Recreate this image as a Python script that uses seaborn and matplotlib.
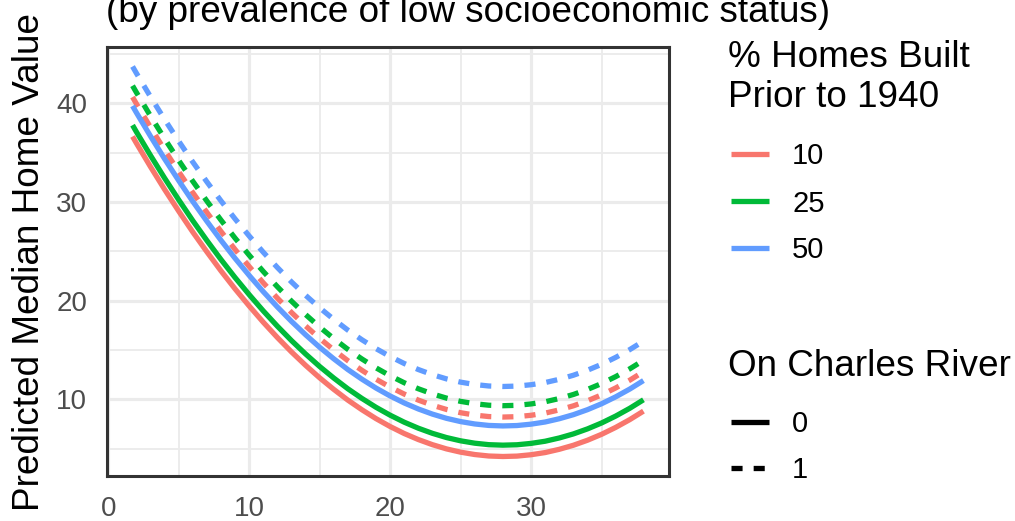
import numpy as np
import pandas as pd
import seaborn as sns
import matplotlib
matplotlib.use("Agg")
import matplotlib.pyplot as plt
from matplotlib.lines import Line2D
from matplotlib.ticker import MultipleLocator

# ---- data ----
lstat = [1.73, 2, 3, 4, 5, 6, 7, 8, 9, 10, 11, 12, 13, 14, 15, 16, 17, 18, 19, 20,
         21, 22, 23, 24, 25, 26, 27, 28, 29, 30, 31, 32, 33, 34, 35, 36, 37, 37.97]
age_levels = ["10", "25", "50"]
chas_levels = ["0", "1"]

pred_age10_chas0 = [36.65, 35.98, 33.59, 31.29, 29.09, 26.97, 24.96, 23.03, 21.20, 19.47, 17.82, 16.27, 14.81,
                    13.45, 12.18, 11.01, 9.92, 8.94, 8.04, 7.24, 6.53, 5.92, 5.40, 4.97, 4.64, 4.40, 4.25, 4.20,
                    4.24, 4.38, 4.60, 4.93, 5.34, 5.85, 6.45, 7.15, 7.94, 8.80]
pred_age25_chas0 = [37.80, 37.13, 34.74, 32.44, 30.24, 28.12, 26.11, 24.18, 22.35, 20.62, 18.97, 17.42, 15.96,
                    14.60, 13.33, 12.16, 11.07, 10.09, 9.19, 8.39, 7.68, 7.07, 6.55, 6.12, 5.79, 5.55, 5.40, 5.35,
                    5.39, 5.53, 5.75, 6.08, 6.49, 7.00, 7.60, 8.30, 9.09, 9.95]
pred_age50_chas0 = [39.75, 39.08, 36.69, 34.39, 32.19, 30.07, 28.06, 26.13, 24.30, 22.57, 20.92, 19.37, 17.91,
                    16.55, 15.28, 14.11, 13.02, 12.04, 11.14, 10.34, 9.63, 9.02, 8.50, 8.07, 7.74, 7.50, 7.35, 7.30,
                    7.34, 7.48, 7.70, 8.03, 8.44, 8.95, 9.55, 10.25, 11.04, 11.90]
pred_age10_chas1 = [40.65, 39.98, 37.59, 35.29, 33.09, 30.97, 28.96, 27.03, 25.20, 23.47, 21.82, 20.27, 18.81,
                    17.45, 16.18, 15.01, 13.92, 12.94, 12.04, 11.24, 10.53, 9.92, 9.40, 8.97, 8.64, 8.40, 8.25, 8.20,
                    8.24, 8.38, 8.60, 8.93, 9.34, 9.85, 10.45, 11.15, 11.94, 12.80]
pred_age25_chas1 = [41.80, 41.13, 38.74, 36.44, 34.24, 32.12, 30.11, 28.18, 26.35, 24.62, 22.97, 21.42, 19.96,
                    18.60, 17.33, 16.16, 15.07, 14.09, 13.19, 12.39, 11.68, 11.07, 10.55, 10.12, 9.79, 9.55, 9.40, 9.35,
                    9.39, 9.53, 9.75, 10.08, 10.49, 11.00, 11.60, 12.30, 13.09, 13.95]
pred_age50_chas1 = [43.75, 43.08, 40.69, 38.39, 36.19, 34.07, 32.06, 30.13, 28.30, 26.57, 24.92, 23.37, 21.91,
                    20.55, 19.28, 18.11, 17.02, 16.04, 15.14, 14.34, 13.63, 13.02, 12.50, 12.07, 11.74, 11.50, 11.35, 11.30,
                    11.34, 11.48, 11.70, 12.03, 12.44, 12.95, 13.55, 14.25, 15.04, 15.90]

title_text = "(by prevalence of low socioeconomic status)"
ylabel_text = "Predicted Median Home Value"
legend1_title = ["% Homes Built", "Prior to 1940"]
legend2_title = "On Charles River"
x_ticks = [0, 10, 20, 30]
y_ticks = [10, 20, 30, 40]

series = {
    ("10", "0"): pred_age10_chas0, ("25", "0"): pred_age25_chas0, ("50", "0"): pred_age50_chas0,
    ("10", "1"): pred_age10_chas1, ("25", "1"): pred_age25_chas1, ("50", "1"): pred_age50_chas1,
}
rows = []
for (age, chas), vals in series.items():
    for x, y in zip(lstat, vals):
        rows.append({"lstat": x, "medv": y, "age": age, "chas": chas})
df = pd.DataFrame(rows)

# ---- style ----
sns.set_style("white")
plt.rcParams["font.family"] = ["Liberation Sans", "DejaVu Sans"]
plt.rcParams["text.color"] = "black"
plt.rcParams["axes.labelcolor"] = "black"

W, H = 1015, 521
fig = plt.figure(figsize=(W / 100, H / 100), dpi=100)
ax = fig.add_axes([107 / W, 1 - 476 / H, (669 - 107) / W, (476 - 47) / H])

palette = {"10": "#F8766D", "25": "#00BA38", "50": "#619CFF"}
dash_map = {"0": "", "1": (2.1, 2.1)}
LW = 3.8

sns.lineplot(data=df, x="lstat", y="medv", hue="age", style="chas",
             hue_order=age_levels, style_order=chas_levels,
             palette=palette, dashes=dash_map, linewidth=LW,
             estimator=None, sort=True, legend=False, ax=ax)
for ln in ax.get_lines():
    ln.set_solid_capstyle("butt")
    ln.set_dash_capstyle("butt")
    ln.set_solid_joinstyle("round")

# ggplot-like 5% expansion
xr = max(lstat) - min(lstat)
allv = np.concatenate([np.array(v) for v in series.values()])
yr = allv.max() - allv.min()
ax.set_xlim(min(lstat) - 0.05 * xr, max(lstat) + 0.05 * xr)
ax.set_ylim(allv.min() - 0.05 * yr, allv.max() + 0.05 * yr)

ax.set_xticks(x_ticks)
ax.set_yticks(y_ticks)
ax.xaxis.set_minor_locator(MultipleLocator(5))
ax.yaxis.set_minor_locator(MultipleLocator(5))
ax.grid(which="major", color="#EBEBEB", linewidth=2.3)
ax.grid(which="minor", color="#EBEBEB", linewidth=1.3)
ax.set_axisbelow(True)
for s in ax.spines.values():
    s.set_visible(True)
    s.set_color("#333333")
    s.set_linewidth(2.2)
ax.tick_params(which="major", length=7.2, width=2.2, color="#333333",
               labelsize=20, labelcolor="#4D4D4D", pad=7)
ax.tick_params(which="minor", length=0)
ax.set_xlabel("")
ax.set_ylabel(ylabel_text, fontsize=26.6, color="black", labelpad=7)

# title (top partly outside, as in reference)
fig.text(106 / W, 1 - 22 / H, title_text, fontsize=26.6, ha="left", va="baseline")

# ---- legends ----
def px(x, y):
    return x / W, 1 - y / H

fig.text(*px(728, 67), legend1_title[0], fontsize=26.6, va="baseline")
fig.text(*px(728, 106.6), legend1_title[1], fontsize=26.6, va="baseline")
for lab, yc in zip(age_levels, [154, 201, 247.5]):
    x0, y0 = px(731, yc)
    x1, _ = px(769, yc)
    fig.add_artist(Line2D([x0, x1], [y0, y0], color=palette[lab], lw=LW,
                          solid_capstyle="butt", transform=fig.transFigure))
    fig.text(*px(792, yc + 10.5), lab, fontsize=21, va="baseline")

fig.text(*px(728, 376), legend2_title, fontsize=26.6, va="baseline")
for lab, yc in zip(chas_levels, [422, 468]):
    x0, y0 = px(731, yc)
    x1, _ = px(769, yc)
    ln = Line2D([x0, x1], [y0, y0], color="black", lw=LW,
                solid_capstyle="butt", dash_capstyle="butt", transform=fig.transFigure)
    if dash_map[lab]:
        ln.set_dashes(dash_map[lab])
    fig.add_artist(ln)
    fig.text(*px(792, yc + 10.5), lab, fontsize=21, va="baseline")

fig.savefig("out.png", dpi=100)
